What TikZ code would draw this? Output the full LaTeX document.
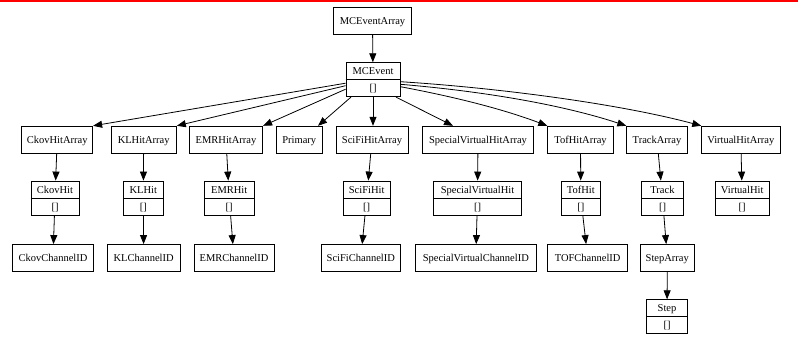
\documentclass[tikz,border=0pt]{standalone}
\usepackage{fontspec}
\setmainfont{Liberation Serif}
\usetikzlibrary{arrows.meta}
\newcommand\mkrec[5]{%
  \node[recbox, minimum width=#4pt] (#1) at (#2,#3) {};
  \draw[divline] (#1.west) -- (#1.east);
  \node[rectxt] (#1-top) at ([yshift=8.5pt]#1.center) {#5};
  \node[rectxt] (#1-bot) at ([yshift=-8.5pt]#1.center) {[]};
}
\tikzset{
  lbl/.style={font=\fontsize{10.5}{12}\selectfont, text height=7pt, text depth=0pt},
  plainbox/.style={draw, line width=0.8pt, inner sep=0pt, minimum height=27pt, lbl},
  recbox/.style={draw, line width=0.8pt, inner sep=0pt, minimum height=34pt},
  divline/.style={line width=0.8pt},
  rectxt/.style={inner sep=0pt, lbl},
  edge/.style={line width=0.8pt, -{Triangle[length=9pt,width=7pt]}}
}
\begin{document}
\begin{tikzpicture}[x=1pt, y=-1pt]
\useasboundingbox (0,0) rectangle (798,361);
\fill[red] (0,0) rectangle (798,2.3);

% top
\node[plainbox, minimum width=78.4pt] (mcea) at (372.5,20.8) {MCEventArray};
\mkrec{mce}{373}{79.7}{54}{MCEvent}

% row 2
\node[plainbox, minimum width=71pt]    (ckovA) at (57.2,139.7)  {CkovHitArray};
\node[plainbox, minimum width=65.5pt]  (klA)   at (143.7,139.7) {KLHitArray};
\node[plainbox, minimum width=73.4pt]  (emrA)  at (226,139.7)   {EMRHitArray};
\node[plainbox, minimum width=46.7pt]  (primA) at (299.3,139.7) {Primary};
\node[plainbox, minimum width=72pt]    (sciA)  at (372,139.7)   {SciFiHitArray};
\node[plainbox, minimum width=110.6pt] (svA)   at (478,139.7)   {SpecialVirtualHitArray};
\node[plainbox, minimum width=65.6pt]  (tofA)  at (580.5,139.7) {TofHitArray};
\node[plainbox, minimum width=60.6pt]  (trkA)  at (657,139.7)   {TrackArray};
\node[plainbox, minimum width=78.3pt]  (virA)  at (740.8,139.7) {VirtualHitArray};

% row 3
\mkrec{ckovH}{55}{198}{48}{CkovHit}
\mkrec{klH}{143.3}{198}{40}{KLHit}
\mkrec{emrH}{229.2}{198}{49.7}{EMRHit}
\mkrec{sciH}{366.7}{198}{46.7}{SciFiHit}
\mkrec{svH}{477.5}{198}{88.4}{SpecialVirtualHit}
\mkrec{tofH}{580.8}{198}{38.3}{TofHit}
\mkrec{trk}{662.5}{198}{41.6}{Track}
\mkrec{virH}{742.2}{198}{54.3}{VirtualHit}

% row 4
\node[plainbox, minimum width=80.6pt]  (ckovC) at (53,258)    {CkovChannelID};
\node[plainbox, minimum width=72.7pt]  (klC)   at (143.7,258) {KLChannelID};
\node[plainbox, minimum width=80pt]    (emrC)  at (234,258)   {EMRChannelID};
\node[plainbox, minimum width=79.5pt]  (sciC)  at (360.8,258) {SciFiChannelID};
\node[plainbox, minimum width=121.7pt] (svC)   at (475.8,258) {SpecialVirtualChannelID};
\node[plainbox, minimum width=80pt]    (tofC)  at (587.7,258) {TOFChannelID};
\node[plainbox, minimum width=53.3pt]  (stepA) at (667.3,258) {StepArray};

% row 5
\mkrec{step}{667}{316.7}{40.6}{Step}

% edges
\draw[edge] (mcea) -- (mce);
\draw[edge] ([yshift=-3.5pt]mce.west) -- (ckovA.north east);
\draw[edge] ([yshift=-6pt]mce.west) -- (klA.north east);
\draw[edge] ([yshift=-9.5pt]mce.west) -- (emrA.north east);
\draw[edge] ([xshift=-22pt]mce.south) -- ([xshift=-5pt]primA.north east);
\draw[edge] (mce.south) -- (mce.south |- sciA.north);
\draw[edge] ([xshift=23pt]mce.south) -- ([xshift=-25pt]svA.north);
\draw[edge] ([yshift=-7pt]mce.east) .. controls (450,96) and (500,108) .. (tofA.north west);
\draw[edge] ([yshift=-4.6pt]mce.east) .. controls (480,91) and (560,104) .. (trkA.north west);
\draw[edge] ([yshift=-2pt]mce.east) .. controls (500,88) and (620,104) .. (virA.north west);

\draw[edge] (ckovA) -- (ckovH);
\draw[edge] (klA) -- (klH);
\draw[edge] (emrA) -- (emrH);
\draw[edge] (sciA) -- (sciH);
\draw[edge] (svA) -- (svH);
\draw[edge] (tofA) -- (tofH);
\draw[edge] (trkA) -- (trk);
\draw[edge] (virA) -- (virH);

\draw[edge] (ckovH) -- (ckovC);
\draw[edge] (klH) -- (klC);
\draw[edge] (emrH) -- (emrC);
\draw[edge] (sciH) -- (sciC);
\draw[edge] (svH) -- (svC);
\draw[edge] (tofH) -- (tofC);
\draw[edge] (trk) -- (stepA);
\draw[edge] (stepA) -- (step);
\end{tikzpicture}
\end{document}
